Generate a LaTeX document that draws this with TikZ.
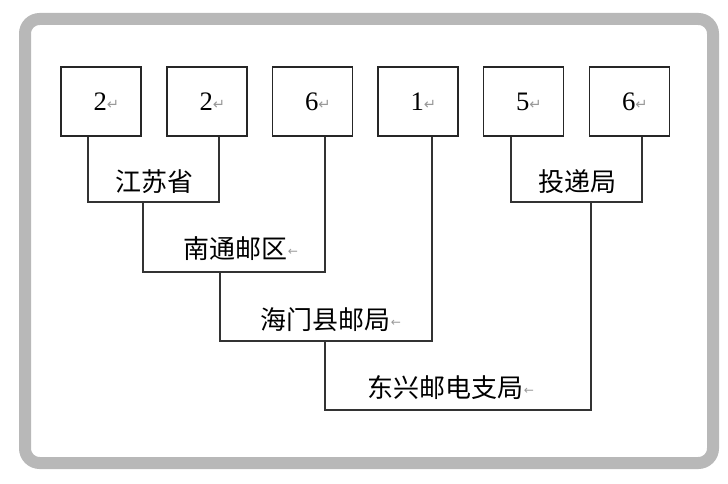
\documentclass[tikz,border=0pt]{standalone}
\usepackage{fontspec}
\setmainfont{Liberation Serif}
\newfontfamily\cjk{Noto Sans CJK SC}
\newfontfamily\symfont{DejaVu Sans}
\usetikzlibrary{arrows.meta, positioning, calc}
\newcommand{\retmark}{{\symfont\fontsize{11}{11}\selectfont\color{black!40}\raisebox{0.1ex}{↵}}}
\newcommand{\lblmark}{{\symfont\fontsize{9}{9}\selectfont\color{black!40}\raisebox{0.5ex}{←}}}

\begin{document}
\begin{tikzpicture}[
    x=0.75pt, y=-0.75pt,
    >=Stealth,
    numbox/.style={draw=black!85, line width=1.4pt, minimum width=60pt,
                   minimum height=52pt, inner sep=0pt,
                   font=\fontsize{20}{20}\selectfont},
    unit/.style={inner sep=1pt, font=\cjk\fontsize{19.5}{20}\selectfont},
    link/.style={draw=black!80, line width=1.2pt},
    frame/.style={draw=black!28, line width=9pt, rounded corners=11pt}
  ]
  \useasboundingbox (0,0) rectangle (728,484);
  \draw[frame] (25,19) rectangle (713,463);

  % top row of digit boxes
  \node[numbox] (b1) at (101,101.5) {\hspace{8pt}2\retmark};
  \node[numbox] (b2) at (207,101.5) {\hspace{8pt}2\retmark};
  \node[numbox] (b3) at (312.5,101.5) {\hspace{8pt}6\retmark};
  \node[numbox] (b4) at (418,101.5) {\hspace{8pt}1\retmark};
  \node[numbox] (b5) at (523.5,101.5) {\hspace{8pt}5\retmark};
  \node[numbox] (b6) at (629.5,101.5) {\hspace{8pt}6\retmark};

  % bracket corners
  \coordinate (jsL) at (88,202);  \coordinate (jsR) at (219,202);
  \coordinate (ntL) at (143,272); \coordinate (ntR) at (325,272);
  \coordinate (hmL) at (220,341); \coordinate (hmR) at (432,341);
  \coordinate (dxL) at (325,410); \coordinate (dxR) at (591,410);
  \coordinate (tdL) at (511,202); \coordinate (tdR) at (642,202);

  % unit names
  \node[unit] (js) at (154,182) {江苏省};
  \node[unit] (nt) at (241,249) {南通邮区\lblmark};
  \node[unit] (hm) at (331,320) {海门县邮局\lblmark};
  \node[unit] (dx) at (451,388) {东兴邮电支局\lblmark};
  \node[unit] (td) at (577,182) {投递局};

  % connectors
  \draw[link] (b1.south -| jsL) -- (jsL) -- (jsR) -- (b2.south -| jsR);
  \draw[link] (jsL -| ntL) -- (ntL) -- (ntR) -- (b3.south -| ntR);
  \draw[link] (ntL -| hmL) -- (hmL) -- (hmR) -- (b4.south -| hmR);
  \draw[link] (hmL -| dxL) -- (dxL) -- (dxR) -- (tdL -| dxR);
  \draw[link] (b5.south -| tdL) -- (tdL) -- (tdR) -- (b6.south -| tdR);
\end{tikzpicture}
\end{document}
